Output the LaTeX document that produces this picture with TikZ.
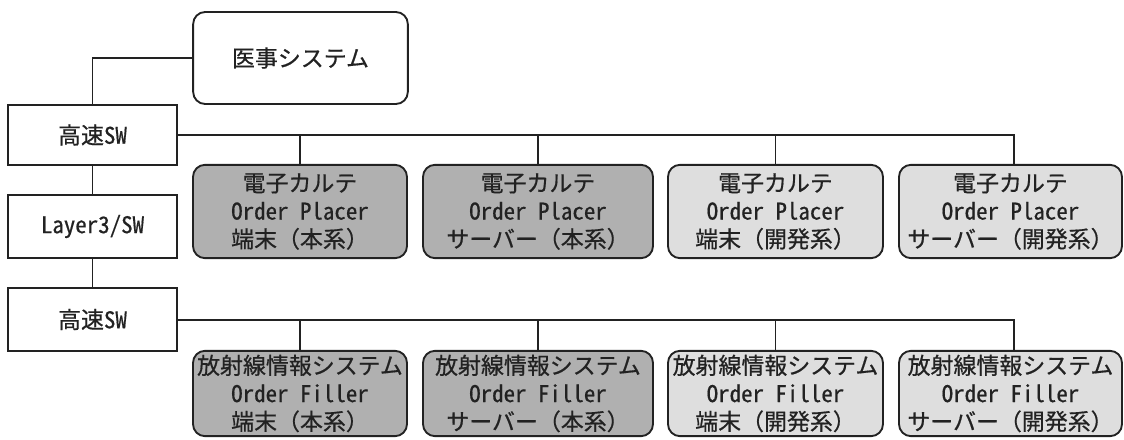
\documentclass[tikz,border=0pt]{standalone}
\usepackage{fontspec}
\setmainfont{Noto Sans CJK JP}[FakeBold=0.6]
\newfontfamily\hw{Noto Sans CJK JP}[RawFeature={+hwid},FakeBold=0.6]
\definecolor{darkfill}{RGB}{176,176,176}
\definecolor{lightfill}{RGB}{222,222,222}
\definecolor{ink}{RGB}{34,34,34}
\tikzset{
  box/.style={draw=ink, line width=1.4pt, inner sep=0pt, align=center, text=ink,
    font=\fontsize{17.2}{21}\selectfont},
  swbox/.style={box, fill=white, minimum width=126.75pt, minimum height=46pt},
  rbox/.style={box, rounded corners=9pt},
  dark/.style={rbox, fill=darkfill},
  light/.style={rbox, fill=lightfill},
  conn/.style={draw=ink, line width=1.4pt}
}
\begin{document}
\begin{tikzpicture}[x=0.75pt, y=-0.75pt]
\useasboundingbox (0,0) rectangle (1124,439);
% top system
\node[rbox, fill=white, minimum width=161pt, minimum height=69pt] (ij) at (300.5,58) {医事システム};
% switches
\node[swbox, minimum height=45pt] (sw1) at (92.5,135) {高速{\hw SW}};
\node[swbox, minimum height=47pt] (l3) at (92.5,226.5) {\hw Layer3/SW};
\node[swbox, minimum height=47pt] (sw2) at (92.5,319.5) {高速{\hw SW}};
% row 1
\node[dark, minimum width=160.5pt, minimum height=70pt] (a1) at (300,211.5) {電子カルテ\\{\hw Order Placer}\\端末（本系）};
\node[dark, minimum width=172.5pt, minimum height=70pt] (a2) at (538,211.5) {電子カルテ\\{\hw Order Placer}\\サーバー（本系）};
\node[light, minimum width=161.25pt, minimum height=70pt] (a3) at (775.5,211.5) {電子カルテ\\{\hw Order Placer}\\端末（開発系）};
\node[light, minimum width=167.25pt, minimum height=70pt] (a4) at (1010.5,211.5) {電子カルテ\\{\hw Order Placer}\\サーバー（開発系）};
% row 2
\node[dark, minimum width=160.5pt, minimum height=64pt] (b1) at (300,393.5) {放射線情報システム\\{\hw Order Filler}\\端末（本系）};
\node[dark, minimum width=172.5pt, minimum height=64pt] (b2) at (538,393.5) {放射線情報システム\\{\hw Order Filler}\\サーバー（本系）};
\node[light, minimum width=161.25pt, minimum height=64pt] (b3) at (775.5,393.5) {放射線情報システム\\{\hw Order Filler}\\端末（開発系）};
\node[light, minimum width=167.25pt, minimum height=64pt] (b4) at (1010.5,393.5) {放射線情報システム\\{\hw Order Filler}\\サーバー（開発系）};
% connectors
\draw[conn] (ij.west) -| (sw1.north);
\draw[conn] (sw1.south) -- (l3.north);
\draw[conn] (l3.south) -- (sw2.north);
\coordinate (e1) at (1014,135);
\coordinate (e2) at (1014,320);
\draw[conn] (sw1.east) -- (e1) -- (e1 |- a4.north);
\draw[conn] (sw2.east |- e2) -- (e2) -- (e2 |- b4.north);
\foreach \n in {a1,a2,a3} { \draw[conn] (\n.north) -- (\n.north |- e1); }
\foreach \n in {b1,b2,b3} { \draw[conn] (\n.north) -- (\n.north |- e2); }
\end{tikzpicture}
\end{document}
